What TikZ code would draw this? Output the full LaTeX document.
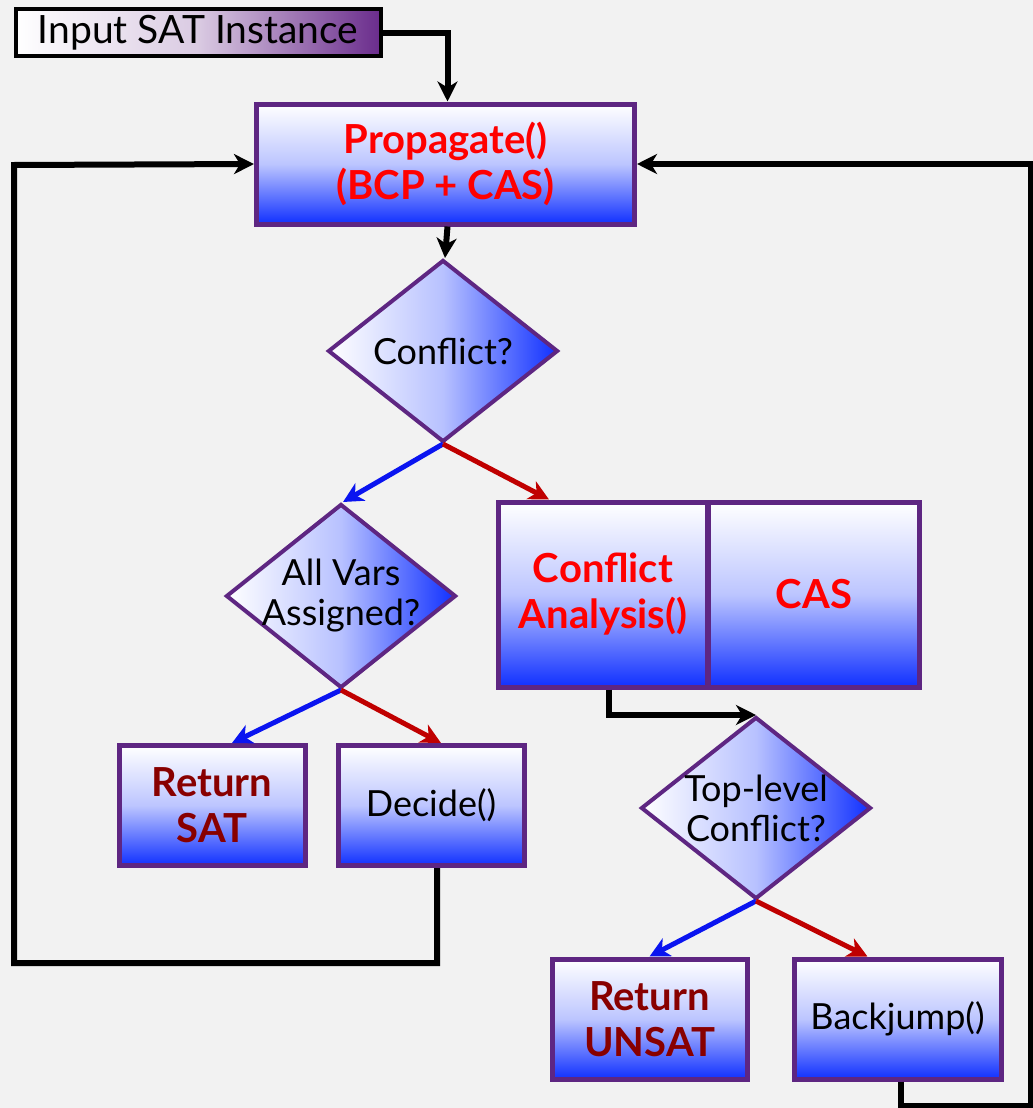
\documentclass[tikz,border=0pt]{standalone}
\usepackage{fontspec}
\setmainfont{Lato}
\usetikzlibrary{shapes.geometric,arrows.meta}
\definecolor{boxpurple}{HTML}{5E2682}
\definecolor{shadeblue}{HTML}{1030FF}
\definecolor{inpurple}{HTML}{6A2C8C}
\definecolor{yesblue}{HTML}{0A14F0}
\definecolor{nored}{HTML}{C00000}
\definecolor{retred}{HTML}{880000}
\definecolor{bggray}{HTML}{F2F2F2}
\begin{document}
\begin{tikzpicture}[x=1pt, y=-1pt,
	every node/.style={font=\fontsize{36}{40}\selectfont, align=center, inner sep=0pt},
	stepbox/.style={draw=boxpurple, line width=5pt, top color=white, bottom color=shadeblue, middle color=shadeblue!28!white, minimum width=#1, minimum height=120pt},
	stepbox/.default=186pt,
	choice/.style={diamond, draw=boxpurple, line width=4pt, left color=white, right color=shadeblue, middle color=shadeblue!30!white, minimum width=230pt, minimum height=182pt, label={[align=center]center:#1}},
	hot/.style={text=red, font=\fontsize{40}{46}\selectfont\bfseries},
	ret/.style={text=retred, font=\fontsize{40}{46}\selectfont\bfseries},
	flow/.style={line width=6pt, -{Stealth[length=20pt,width=20pt,inset=6pt]}},
	yes/.style={flow, line width=5pt, yesblue},
	no/.style={flow, line width=5pt, nored}]
\fill[bggray] (0,0) rectangle (1033,1108);
\useasboundingbox (0,0) rectangle (1033,1108);
% boxes
\node[draw=black, line width=4pt, left color=white, right color=inpurple, middle color=inpurple!25!white, minimum width=365pt, minimum height=47pt, font=\fontsize{39}{42}\selectfont] (inp) at (198,33) {Input SAT Instance};
\node[stepbox=378pt, hot] (prop) at (445.5,164) {Propagate()\\(BCP + CAS)};
\node[choice={Conflict?}] (conf) at (443,351) {};
\node[choice={All Vars\\Assigned?}, minimum height=184pt] (vars) at (341,596) {};
\node[stepbox=209pt, minimum height=185pt, hot] (ca) at (603,594.5) {Conflict\\Analysis()};
\node[stepbox=211pt, minimum height=185pt, hot] (cas) at (814,594.5) {CAS};
\node[stepbox, ret] (sat) at (212,805.5) {Return\\SAT};
\node[stepbox] (dec) at (431,805.5) {Decide()};
\node[choice={Top-level\\Conflict?}] (top) at (756,808) {};
\node[stepbox=195pt, ret] (unsat) at (649.5,1019) {Return\\UNSAT};
\node[stepbox=207pt] (bj) at (897.5,1019) {Backjump()};
% loop corners
\coordinate (lbot) at (14,963);
\coordinate (ltop) at (14,165);
\coordinate (rbot) at (1031,1106);
\coordinate (rtop) at (1031,164);
% connectors
\draw[flow] (inp.east) -| ([xshift=2pt]prop.north);
\draw[flow] ([xshift=2pt]prop.south) -- ([xshift=2pt]conf.north);
\draw[yes] (conf.south) -- ([xshift=2pt]vars.north);
\draw[no] (conf.south) -- ([xshift=53pt]ca.north west);
\draw[yes] (vars.south) -- ([xshift=20pt]sat.north);
\draw[no] (vars.south) -- ([xshift=10pt]dec.north);
\draw[flow] ([xshift=6pt]ca.south) |- (top.north);
\draw[yes] (top.south) -- (unsat.north);
\draw[no] (top.south) -- ([xshift=-30pt]bj.north);
\draw[flow] ([xshift=6pt]dec.south) |- (lbot) -- (ltop) -- (prop.west);
\draw[flow] ([xshift=3pt]bj.south) |- (rbot) -- (rtop) -- (prop.east);
\end{tikzpicture}
\end{document}
